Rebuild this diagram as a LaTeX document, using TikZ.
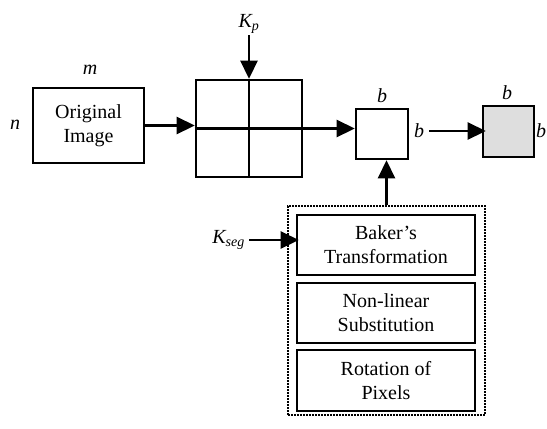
\documentclass[tikz,border=0pt]{standalone}
\usepackage{fontspec}
\setmainfont{Liberation Serif}
\usetikzlibrary{arrows.meta}

\tikzset{
  box/.style={draw, line width=2.6pt, align=center, inner sep=0pt,
    font=\fontsize{20}{24}\selectfont},
  lbl/.style={font=\fontsize{20}{22}\selectfont\itshape, inner sep=1pt},
  bigarrow/.style={-{Triangle[length=18pt,width=17pt]}, line width=2.6pt},
}

\begin{document}
\begin{tikzpicture}[x=1pt,y=-1pt]
            \useasboundingbox (0,0) rectangle (547,429);
            % blocks
            \node[box, minimum width=111, minimum height=75] (orig) at (88.5,125.5) {Original\\Image};
            \node[box, minimum width=106, minimum height=97] (grid) at (249,128.5) {};
            \draw[line width=2.6pt] (grid.north) -- (grid.south);
            \draw[line width=2.6pt] (grid.west) -- (grid.east);
            \node[box, minimum width=52, minimum height=50] (blk) at (382,134) {};
            \node[box, fill=black!13, minimum width=51, minimum height=51] (enc) at (508.5,131.5) {};
            % key generation steps
            \node[draw, densely dotted, line width=2pt, minimum width=197, minimum height=209] (keys) at (386.5,310.5) {};
            \node[box, minimum width=178, minimum height=60] (baker) at (386,245) {Baker’s\\Transformation};
            \node[box, minimum width=178, minimum height=60] (subst) at (386,313) {Non-linear\\Substitution};
            \node[box, minimum width=178, minimum height=61] (rot) at (386,380.5) {Rotation of\\Pixels};
            % labels
            \node[lbl] (m) at (90,70) {m};
            \node[lbl] (n) at (15,125) {n};
            \node[lbl, anchor=south] (kp) at (249,35) {K\textsubscript{p}};
            \node[lbl] (bt) at (382,96) {b};
            \node[lbl] (br) at (419,131) {b};
            \node[lbl] (et) at (507,93) {b};
            \node[lbl] (er) at (541,131) {b};
            \node[lbl, anchor=east] (kseg) at (246,240) {K\textsubscript{seg}};
            % arrows
            \draw[bigarrow] (orig.east) -- (orig.east -| grid.west);
            \draw[bigarrow] (kp.south) -- (grid.north);
            \draw[bigarrow] (grid.east) -- (grid.east -| blk.west);
            \draw[bigarrow] ([xshift=4pt]br.east) -- ([xshift=4pt]br.east -| enc.west);
            \draw[bigarrow] (keys.north) -- (keys.north |- blk.south);
            \draw[bigarrow] ([xshift=3pt]kseg.east) -- ([xshift=3pt]kseg.east -| baker.west);
        \end{tikzpicture}
\end{document}
